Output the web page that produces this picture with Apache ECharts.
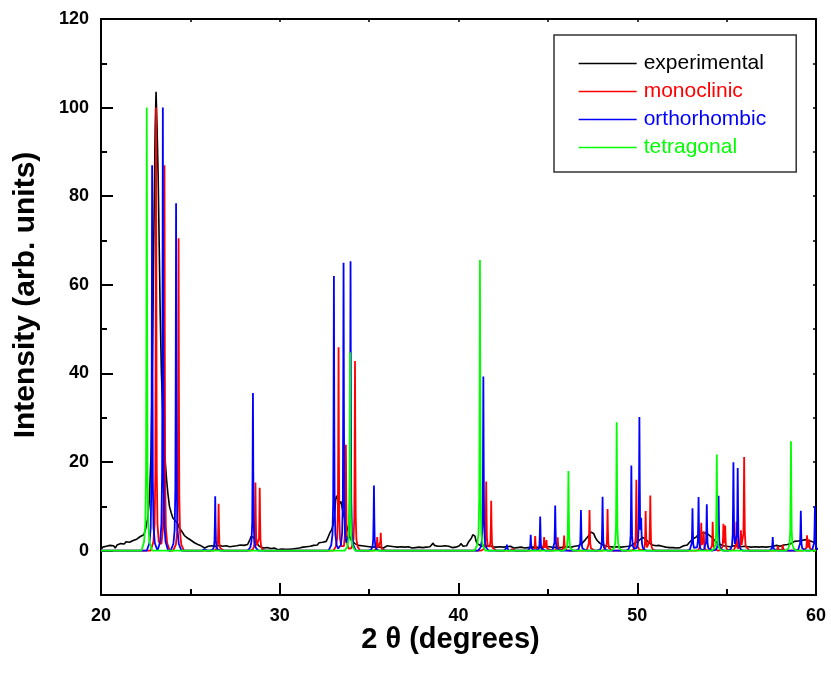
<!DOCTYPE html>
<html>
<head>
<meta charset="utf-8">
<script src="https://cdn.jsdelivr.net/npm/echarts@6/dist/echarts.min.js"></script>
<style>
  html, body { margin: 0; padding: 0; background: #fff; }
  #chart { width: 831px; height: 677px; }
</style>
</head>
<body>
<div id="chart"></div>
<script>
// Measured diffraction pattern: [2θ (degrees), intensity]
const experimental = [
  [20.0,0.3],[20.1,0.8],[20.2,0.5],[20.3,1.0],[20.4,0.7],[20.5,1.2],[20.6,0.9],[20.7,1.1],[20.8,0.6],[20.9,1.3],
  [21.0,1.0],[21.1,1.6],[21.2,1.2],[21.3,1.5],[21.4,2.0],[21.5,1.6],[21.6,1.9],[21.7,1.5],[21.8,2.3],[21.9,2.0],
  [22.0,2.6],[22.1,2.4],[22.2,3.2],[22.3,3.0],[22.4,3.6],[22.5,5.0],[22.6,7.0],[22.7,11],[22.8,22],[22.86,38],
  [22.92,58],[22.97,76],[23.03,95],[23.08,103.6],[23.14,95],[23.2,84],[23.26,68],[23.31,54],[23.38,40],[23.46,31],
  [23.53,24],[23.6,19.8],[23.67,16],[23.74,13],[23.83,10],[23.93,8.5],[24.02,7.4],[24.11,7.0],[24.2,6.6],[24.3,6.0],
  [24.39,5.1],[24.48,4.6],[24.58,4.0],[24.67,3.4],[24.77,3.2],[24.86,2.8],[24.95,2.6],[25.05,2.3],[25.14,2.1],[25.23,1.8],
  [25.33,1.9],[25.42,1.4],[25.51,1.5],[25.6,1.1],[25.7,1.0],[25.8,0.6],[25.9,0.8],[26.0,1.0],[26.1,0.7],[26.2,1.1],
  [26.3,0.9],[26.4,1.0],[26.5,0.8],[26.6,1.2],[26.7,0.9],[26.8,1.0],[26.9,0.7],[27.0,1.1],[27.1,1.3],[27.2,0.9],
  [27.3,1.2],[27.4,1.0],[27.5,1.4],[27.6,1.1],[27.7,1.0],[27.8,1.3],[27.9,1.1],[28.0,1.2],[28.1,1.5],[28.2,1.4],
  [28.3,2.2],[28.4,3.2],[28.45,2.8],[28.55,3.0],[28.65,2.0],[28.75,1.5],[28.85,1.0],[28.95,0.9],[29.1,0.6],[29.2,0.5],
  [29.3,0.7],[29.4,0.4],[29.5,0.5],[29.6,0.3],[29.7,0.6],[29.8,0.4],[29.9,0.2],[30.0,0.1],[30.1,0.4],[30.2,0.6],
  [30.3,0.3],[30.4,0.5],[30.5,0.3],[30.6,0.6],[30.7,0.4],[30.8,0.7],[30.9,0.5],[31.0,0.8],[31.1,0.6],[31.2,1.0],
  [31.3,0.8],[31.4,1.1],[31.5,0.9],[31.6,1.3],[31.7,1.0],[31.8,1.4],[31.9,1.2],[32.0,1.6],[32.1,1.3],[32.2,1.8],
  [32.3,1.5],[32.4,1.9],[32.5,1.7],[32.6,2.1],[32.7,3.0],[32.8,4.0],[32.9,4.7],[33.0,6.0],[33.08,9.0],[33.13,11.5],
  [33.18,12.4],[33.25,11.6],[33.32,10.5],[33.42,11.1],[33.5,9.5],[33.58,8.0],[33.65,7.0],[33.75,5.5],[33.83,4.4],[33.92,3.0],
  [34.0,2.4],[34.1,2.1],[34.2,1.6],[34.3,1.8],[34.4,1.2],[34.5,1.4],[34.6,1.1],[34.7,1.3],[34.8,1.0],[34.9,1.2],
  [35.0,0.9],[35.1,1.1],[35.2,0.8],[35.3,1.2],[35.4,0.9],[35.5,1.3],[35.6,0.8],[35.7,1.0],[35.8,0.6],[35.9,0.9],
  [36.0,1.1],[36.1,0.7],[36.2,1.0],[36.3,0.6],[36.4,0.9],[36.5,0.5],[36.6,0.8],[36.7,0.6],[36.8,0.9],[36.9,0.5],
  [37.0,0.8],[37.1,0.6],[37.2,0.9],[37.3,0.7],[37.4,0.6],[37.5,0.9],[37.6,0.7],[37.7,1.0],[37.8,0.8],[37.9,0.9],
  [38.0,0.7],[38.1,1.0],[38.2,0.8],[38.3,1.0],[38.4,0.9],[38.5,1.2],[38.58,1.7],[38.65,1.2],[38.75,0.9],[38.85,1.0],
  [38.95,0.8],[39.05,1.0],[39.15,0.9],[39.25,1.1],[39.35,0.8],[39.45,1.0],[39.55,0.9],[39.65,0.7],[39.75,1.0],[39.85,0.8],
  [39.95,0.9],[40.05,1.1],[40.15,1.6],[40.25,1.0],[40.35,1.4],[40.45,1.1],[40.55,1.9],[40.65,2.1],[40.72,2.8],[40.8,3.6],
  [40.86,4.0],[40.92,3.3],[40.98,2.2],[41.05,1.6],[41.15,1.2],[41.3,1.0],[41.45,1.3],[41.6,1.0],[41.75,1.2],[41.9,0.9],
  [42.0,1.1],[42.1,0.8],[42.2,1.0],[42.3,0.9],[42.4,1.2],[42.5,0.8],[42.6,1.0],[42.7,0.9],[42.8,0.7],[42.9,1.0],
  [43.0,0.8],[43.1,0.6],[43.2,0.9],[43.3,0.7],[43.4,1.0],[43.5,0.8],[43.6,0.9],[43.7,0.6],[43.8,0.9],[43.9,0.7],
  [44.0,1.0],[44.1,0.8],[44.2,1.1],[44.3,0.8],[44.4,1.0],[44.5,0.7],[44.6,0.9],[44.7,0.8],[44.8,1.1],[44.9,0.9],
  [45.0,1.2],[45.1,0.9],[45.2,1.0],[45.3,0.7],[45.4,0.9],[45.5,0.8],[45.6,1.0],[45.7,0.7],[45.8,0.9],[45.9,0.8],
  [46.0,1.1],[46.1,0.9],[46.2,1.0],[46.3,0.8],[46.4,1.1],[46.5,1.0],[46.6,1.2],[46.7,1.1],[46.8,1.5],[46.9,1.6],
  [47.0,2.0],[47.1,2.5],[47.2,3.0],[47.3,3.5],[47.4,4.2],[47.48,4.5],[47.56,3.9],[47.65,3.0],[47.76,2.3],[47.9,1.7],
  [48.0,1.4],[48.1,1.2],[48.2,1.4],[48.3,1.0],[48.4,1.2],[48.5,0.9],[48.6,1.1],[48.7,0.8],[48.8,1.0],[48.9,0.9],
  [49.0,1.1],[49.1,0.8],[49.2,1.0],[49.3,0.9],[49.4,1.2],[49.5,1.0],[49.6,1.3],[49.7,1.2],[49.8,1.6],[49.9,1.8],
  [50.0,2.2],[50.1,2.3],[50.2,2.6],[50.3,3.0],[50.38,3.1],[50.46,2.6],[50.55,2.2],[50.65,1.8],[50.75,1.6],[50.85,1.3],
  [50.95,1.4],[51.05,1.1],[51.2,1.2],[51.3,0.8],[51.4,1.0],[51.5,0.7],[51.6,0.8],[51.7,0.6],[51.8,0.7],[51.9,0.5],
  [52.0,0.7],[52.1,0.5],[52.2,0.6],[52.3,0.5],[52.4,0.7],[52.5,0.8],[52.6,1.1],[52.7,0.9],[52.8,1.3],[52.9,1.8],
  [53.0,2.1],[53.1,2.6],[53.2,2.9],[53.3,3.1],[53.4,3.6],[53.5,3.8],[53.6,4.0],[53.7,3.8],[53.8,4.0],[53.9,3.7],
  [54.0,3.6],[54.1,3.2],[54.2,2.9],[54.3,2.5],[54.4,2.0],[54.5,1.7],[54.6,1.5],[54.7,1.4],[54.8,1.1],[54.9,1.2],
  [55.0,1.0],[55.1,1.2],[55.2,0.9],[55.3,1.0],[55.4,1.1],[55.5,0.8],[55.6,1.0],[55.7,0.7],[55.8,0.9],[55.9,0.8],
  [56.0,1.0],[56.1,0.7],[56.2,0.9],[56.3,0.6],[56.4,0.8],[56.5,0.7],[56.6,0.9],[56.7,0.6],[56.8,0.8],[56.9,0.7],
  [57.0,0.9],[57.1,0.6],[57.2,0.8],[57.3,0.7],[57.4,0.9],[57.5,0.8],[57.6,1.0],[57.7,0.8],[57.8,1.2],[57.9,0.9],
  [58.0,1.0],[58.1,1.1],[58.2,1.3],[58.3,1.2],[58.4,1.4],[58.5,1.3],[58.6,1.6],[58.7,1.8],[58.8,2.1],[58.9,1.8],
  [59.0,2.2],[59.1,2.0],[59.2,2.3],[59.3,2.2],[59.4,2.5],[59.5,2.1],[59.6,2.3],[59.7,1.9],[59.8,2.0],[59.9,1.7],
  [60.0,1.8]
];

// Calculated reflections: [2θ (degrees), relative intensity]
const monoclinicPeaks = [
  [23.08,100],[23.55,87],[24.34,70.5],[26.58,10.6],[28.64,15.3],[28.88,14.1],[33.29,45.9],[33.70,23.9],
  [34.21,42.8],[35.45,3.0],[35.65,4.0],[41.55,15.6],[41.83,11.2],[43.03,0.8],[44.29,3.3],[44.79,3.0],
  [44.92,2.3],[45.55,3.0],[45.91,3.4],[47.33,9.2],[48.34,9.4],[49.95,16.0],[50.47,8.9],[50.73,12.4],
  [53.58,6.2],[53.72,4.2],[54.22,6.5],[54.82,5.8],[54.92,5.4],[55.55,6.5],[55.80,4.2],[55.98,21.1],
  [57.87,1.1],[58.14,1.3],[59.50,3.4],[59.62,2.4]
];
const orthorhombicPeaks = [
  [22.86,87],[23.46,100],[24.20,78.4],[25.80,0.6],[26.39,12.3],[28.50,35.6],[33.03,62.0],[33.57,65.0],
  [33.96,65.3],[35.27,14.7],[41.39,39.3],[42.71,1.4],[44.04,3.6],[44.57,7.7],[45.41,10.2],[46.85,9.2],
  [48.06,12.2],[49.67,19.2],[50.12,29.9],[50.22,6.0],[53.09,9.6],[53.43,12.1],[53.89,10.5],[54.55,12.4],
  [55.38,19.8],[55.62,18.5],[57.58,3.1],[59.15,9.0],[59.94,10.0]
];
const tetragonalPeaks = [
  [22.56,100],[33.93,44.8],[41.20,65.6],[46.15,18.0],[48.85,29.0],[54.45,21.7],[58.60,24.7]
];

// Tick positions
const xRange = [20, 60];
const yRange = [-10, 120];
const yMajorTicks = [0, 20, 40, 60, 80, 100, 120];
const yMinorTicks = [10, 30, 50, 70, 90, 110];
const yRightTicks = [0, 10, 20, 30, 40, 50, 60, 70, 80, 90, 100, 110, 120];

// Narrow peak shape (offset in degrees, fraction of peak height), piecewise linear
const peakShape = [
  [-0.30, 0], [-0.15, 0.02], [-0.08, 0.06], [-0.04, 0.18], [-0.02, 0.5], [0, 1],
  [0.02, 0.5], [0.04, 0.18], [0.08, 0.06], [0.15, 0.02], [0.30, 0]
];

function shapeValue(dx) {
  if (dx <= peakShape[0][0] || dx >= peakShape[peakShape.length - 1][0]) return 0;
  for (let i = 1; i < peakShape.length; i++) {
    const a = peakShape[i - 1], b = peakShape[i];
    if (dx <= b[0]) return a[1] + (b[1] - a[1]) * (dx - a[0]) / (b[0] - a[0]);
  }
  return 0;
}

// Stick pattern -> polyline: sum of peak shapes at every breakpoint
function patternLine(peaks) {
  const xs = new Set([xRange[0], xRange[1]]);
  peaks.forEach(([p]) => peakShape.forEach(([dx]) => xs.add(+(p + dx).toFixed(4))));
  return Array.from(xs).sort((a, b) => a - b).map(x => {
    let y = 0;
    peaks.forEach(([p, h]) => { y += h * shapeValue(x - p); });
    return [x, +y.toFixed(3)];
  });
}

const FONT = '"Liberation Sans", Arial, Helvetica, sans-serif';
const labelText = { fontFamily: FONT, fontWeight: 'bold', fontSize: 18, color: '#000' };
const axisLine = { show: true, onZero: false, lineStyle: { color: '#000', width: 2 } };

const chart = echarts.init(document.getElementById('chart'));
chart.setOption({
  animation: false,
  backgroundColor: '#fff',
  grid: { left: 101, right: 15, top: 19, bottom: 82, containLabel: false },
  legend: {
    orient: 'vertical',
    left: 554, top: 35,
    padding: [18, 30, 14, 24],
    itemWidth: 58, itemHeight: 20, itemGap: 7,
    borderColor: '#333', borderWidth: 1.5,
    itemStyle: { opacity: 0 },
    lineStyle: { width: 1.3 },
    textStyle: { fontFamily: FONT, fontSize: 21, padding: [0, 0, 0, 2] },
    data: [
      { name: 'experimental', textStyle: { color: '#000' } },
      { name: 'monoclinic', textStyle: { color: '#ff0000' } },
      { name: 'orthorhombic', textStyle: { color: '#0000ff' } },
      { name: 'tetragonal', textStyle: { color: '#00ff00' } }
    ]
  },
  xAxis: [
    {
      type: 'value', position: 'bottom', min: xRange[0], max: xRange[1], interval: 10,
      name: '2 θ (degrees)', nameLocation: 'middle', nameGap: 30, nameMoveOverlap: false,
      nameTextStyle: { fontFamily: FONT, fontWeight: 'bold', fontSize: 29, color: '#000', padding: [0, 16, 0, 0] },
      axisLine: axisLine,
      axisTick: { show: true, inside: true, length: 12, lineStyle: { color: '#000', width: 2 } },
      minorTick: { show: true, splitNumber: 2, length: 6, lineStyle: { color: '#000', width: 2 } },
      axisLabel: Object.assign({ margin: 12 }, labelText),
      splitLine: { show: false }
    },
    {
      type: 'value', position: 'top', min: xRange[0], max: xRange[1], interval: 5,
      axisLine: axisLine,
      axisTick: { show: true, inside: true, length: 3, lineStyle: { color: '#000', width: 1.5 } },
      axisLabel: { show: false },
      splitLine: { show: false }
    }
  ],
  yAxis: [
    {
      type: 'value', position: 'left', min: yRange[0], max: yRange[1],
      name: 'Intensity (arb. units)', nameLocation: 'middle', nameGap: 60,
      nameTextStyle: { fontFamily: FONT, fontWeight: 'bold', fontSize: 30, color: '#000', padding: [0, 0, 0, 24] },
      axisLine: axisLine,
      axisTick: { show: true, inside: true, length: 12, customValues: yMajorTicks, lineStyle: { color: '#000', width: 2 } },
      axisLabel: Object.assign({ margin: 12, customValues: yMajorTicks }, labelText),
      splitLine: { show: false }
    },
    {
      type: 'value', position: 'left', min: yRange[0], max: yRange[1],
      axisLine: { show: false },
      axisTick: { show: true, inside: true, length: 6, customValues: yMinorTicks, lineStyle: { color: '#000', width: 2 } },
      axisLabel: { show: false },
      splitLine: { show: false }
    },
    {
      type: 'value', position: 'right', min: yRange[0], max: yRange[1],
      axisLine: axisLine,
      axisTick: { show: true, inside: true, length: 3, customValues: yRightTicks, lineStyle: { color: '#000', width: 1.5 } },
      axisLabel: { show: false },
      splitLine: { show: false }
    }
  ],
  series: [
    {
      name: 'experimental', type: 'line', xAxisIndex: 0, yAxisIndex: 0,
      data: experimental, symbol: 'none', color: '#000',
      lineStyle: { color: '#000', width: 1.6 }
    },
    {
      name: 'monoclinic', type: 'line', xAxisIndex: 0, yAxisIndex: 0,
      data: patternLine(monoclinicPeaks), symbol: 'none', color: '#ff0000',
      lineStyle: { color: '#ff0000', width: 1.8 }
    },
    {
      name: 'orthorhombic', type: 'line', xAxisIndex: 0, yAxisIndex: 0,
      data: patternLine(orthorhombicPeaks), symbol: 'none', color: '#0000ff',
      lineStyle: { color: '#0000ff', width: 1.8 }
    },
    {
      name: 'tetragonal', type: 'line', xAxisIndex: 0, yAxisIndex: 0,
      data: patternLine(tetragonalPeaks), symbol: 'none', color: '#00ff00',
      lineStyle: { color: '#00ff00', width: 1.8 }
    }
  ]
});
</script>
</body>
</html>
